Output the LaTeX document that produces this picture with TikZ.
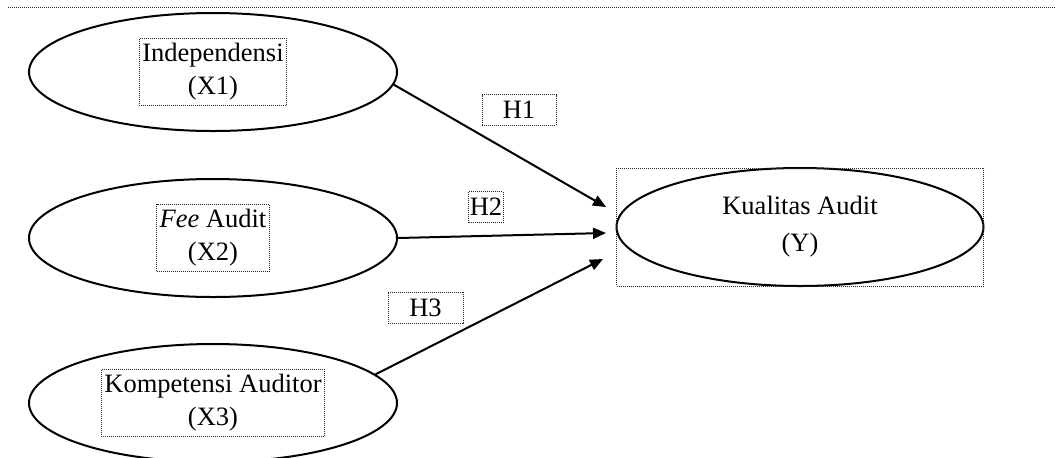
\documentclass[tikz,border=0pt]{standalone}
\usepackage{fontspec}
\setmainfont{Liberation Serif}
\usepackage{tikz}
\usetikzlibrary{arrows.meta}
\usetikzlibrary{shapes.geometric}
\usetikzlibrary{positioning}
\tikzset{
	mymodel/.style = {
		x=0.5pt, y=-0.5pt, line width=1pt,
		>={Triangle[length=6.5pt,width=5.5pt]},
		font=\fontsize{13.25}{16.5}\selectfont,
	},
	varnode/.style = {draw, ellipse, inner sep=0pt, minimum width=184pt, minimum height=59pt},
	dotline/.style = {draw=black!85, line width=0.5pt, dash pattern=on 0.5pt off 0.5pt},
	dotbox/.style = {dotline, align=center, inner xsep=1.5pt, inner ysep=2.5pt},
	hbox/.style = {dotline, inner xsep=0.5pt, minimum height=15pt},
}

\begin{document}
\begin{tikzpicture}[mymodel]
		\useasboundingbox (0,0) rectangle (1055,457);
		\draw[dotline] (8,7) -- (1055,7);
		
		\node[varnode] (x1) at (213,72) {};
		\node[varnode] (x2) [below=23pt of x1] {};
		\node[varnode] (x3) [below=22.5pt of x2] {};
		\node[varnode, minimum width=183.5pt, align=center] (y) at (800,227) {Kualitas Audit\\[2pt](Y)};
		\node[dotline, inner sep=0pt, minimum width=183.5pt, minimum height=59pt] (yframe) at (y) {};
		
		\node[dotbox] (t1) at (x1) {Independensi\\(X1)};
		\node[dotbox] (t2) at (x2) {\textit{Fee} Audit\\(X2)};
		\node[dotbox] (t3) at (x3) {Kompetensi Auditor\\(X3)};
		
		\coordinate (y1) at (606,207);
		\coordinate (y2) at (606,233);
		\coordinate (y3) at (603,259);
		\draw[->] (x1.-4) -- (y1);
		\draw[->] (x2.east) -- (y2);
		\draw[->] (x3.10) -- (y3);
		
		\node[hbox, minimum width=37pt] (h1) at (519,110) {H1};
		\node[hbox] (h2) at (486,207) {H2};
		\node[hbox, minimum width=37.5pt] (h3) at (425.5,308) {H3};
	\end{tikzpicture}
\end{document}
